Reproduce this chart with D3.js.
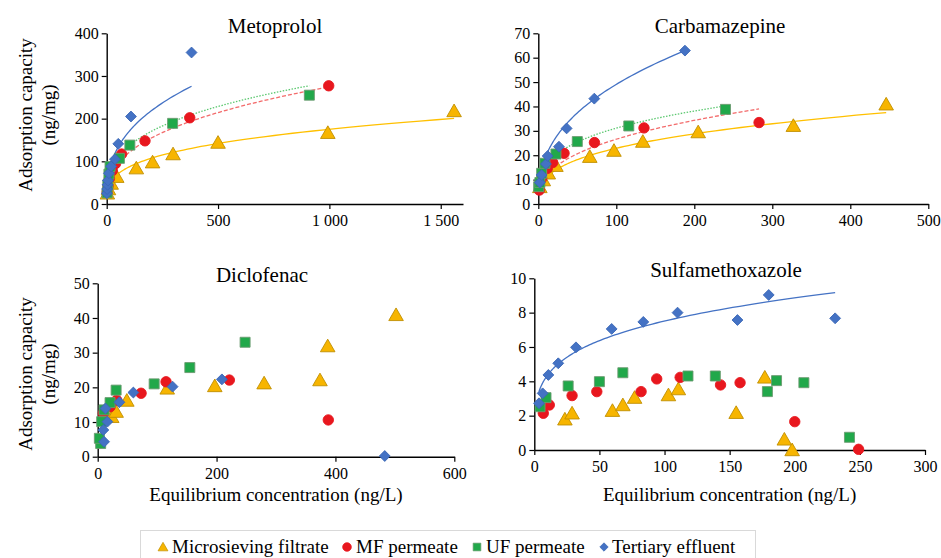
<!DOCTYPE html>
<html>
<head>
<meta charset="utf-8">
<script src="https://cdn.jsdelivr.net/npm/d3@7"></script>
<style>
  body { margin: 0; background: #fff; }
  svg text { font-family: "Liberation Serif", "Times New Roman", Tinos, "DejaVu Serif", "Noto Serif", serif !important; fill: #000; }
</style>
</head>
<body>
<svg id="chart" width="941" height="558"></svg>
<script>
// ---- data: [concentration ng/L, capacity ng/mg] ----
const seriesNames = ["Microsieving filtrate", "MF permeate", "UF permeate", "Tertiary effluent"];

const metoMicro = [[3, 25], [8, 35], [20, 48], [45, 64], [133, 84], [206, 98], [298, 117], [500, 144], [993, 167], [1560, 218]];
const metoMF    = [[2, 28], [6, 42], [12, 60], [25, 78], [40, 95], [67, 117], [172, 148], [373, 202], [997, 277]];
const metoUF    = [[2, 26], [5, 45], [10, 70], [15, 88], [57, 107], [104, 138], [296, 189], [910, 255]];
const metoTert  = [[1, 25], [2, 35], [4, 45], [6, 55], [10, 72], [20, 88], [37, 105], [52, 141], [109, 205], [381, 355]];

const carbMicro = [[2, 7], [6.4, 9.8], [12.8, 12.6], [22.6, 15.7], [66, 19.4], [97, 21.9], [134, 25.6], [205, 29.5], [327, 32.1], [446, 40.9]];
const carbMF    = [[1.3, 5.7], [4.3, 10.5], [11.5, 14.6], [18.4, 17], [33, 20.8], [72, 25.2], [135.5, 31.2], [283, 33.4]];
const carbUF    = [[0.5, 7.1], [2, 8.8], [4.3, 12.6], [8.5, 16.7], [22.6, 20.5], [50, 25.6], [116, 32], [240, 38.8]];
const carbTert  = [[2, 8.8], [4.3, 11.9], [9.8, 16.4], [12, 19.7], [26.5, 23.5], [36.3, 31], [71.8, 43.2], [188, 62.9]];

const diclMicro = [[23.6, 11.5], [31, 13], [49, 16.2], [117, 19.7], [197, 20.4], [280, 21.2], [374, 22.1], [387, 31.9], [502, 40.9]];
const diclMF    = [[9.5, 12.5], [20.8, 14.4], [32, 16.3], [73, 18.3], [115, 21.6], [221.5, 22.1], [388, 10.6]];
const diclUF    = [[5, 3.8], [2.8, 5.3], [6.7, 10.1], [10.7, 13.5], [20.8, 15.6], [31, 19.2], [95, 21], [155, 25.7], [248, 33]];
const diclTert  = [[10.7, 4.3], [9.5, 7.7], [16.3, 10.1], [13, 13.9], [36.5, 15.7], [60, 18.5], [126, 20.2], [209, 22.3], [483, 0.2]];

const sulfMicro = [[23.5, 1.79], [29, 2.14], [60, 2.29], [68, 2.62], [77, 3.05], [103, 3.2], [110.6, 3.55], [155, 2.17], [177, 4.23], [192, 0.62], [198, 0]];
const sulfMF    = [[6.9, 2.14], [11.5, 2.62], [29, 3.17], [48, 3.4], [82, 3.4], [94, 4.14], [112, 4.23], [143, 3.79], [158, 3.92], [200, 1.65], [249, 0.04]];
const sulfUF    = [[4.4, 2.52], [9, 3.05], [26, 3.73], [50, 3.98], [68, 4.5], [118, 4.31], [139, 4.31], [179, 3.4], [186, 4.04], [207, 3.92], [242, 0.74]];
const sulfTert  = [[3.6, 2.72], [6.4, 3.3], [10.8, 4.37], [18.4, 5.05], [32, 5.98], [59.4, 7.05], [83.7, 7.46], [110, 8.0], [156, 7.57], [180, 9.03], [231, 7.67]];

// power trendlines q = a * C^b as printed in the figure, [a, b] per series (null = no trendline)
const metoTrend = [[21.3, 0.305], [23.3, 0.357], [30.9, 0.322], [31.9, 0.363]];
const carbTrend = [[4.98, 0.331], [4.88, 0.368], [8.07, 0.293], [8.03, 0.393]];
const diclTrend = [null, null, null, null];
const sulfTrend = [null, null, null, [2.51, 0.238]];

const metoXTicks = [0, 500, 1000, 1500];
const metoYTicks = [0, 100, 200, 300, 400];
const carbXTicks = [0, 100, 200, 300, 400, 500];
const carbYTicks = [0, 10, 20, 30, 40, 50, 60, 70];
const diclXTicks = [0, 200, 400, 600];
const diclYTicks = [0, 10, 20, 30, 40, 50];
const sulfXTicks = [0, 50, 100, 150, 200, 250, 300];
const sulfYTicks = [0, 2, 4, 6, 8, 10];

// ---- styling ----
const serif = "'Liberation Serif', 'Times New Roman', Tinos, 'DejaVu Serif', 'Noto Serif', serif";
const fills   = ["#F7B500", "#E8171E", "#21A84A", "#4472C4"];
const strokes = ["#BF8F00", "#E8171E", "#6B9B70", "#3A66B5"];
const trendColors = ["#FFC000", "#F36B6B", "#5CC870", "#4472C4"];
const trendDash   = [null, "4,2", "1.5,1.5", null];
const symbols = [d3.symbolTriangle, d3.symbolCircle, d3.symbolSquare, d3.symbolDiamond2];
const symSize = [92, 85, 100, 75];

const spaceFmt = v => d3.format(",")(v).replace(/,/g, "\u00a0");

const panels = [
  { title: "Metoprolol", series: [metoMicro, metoMF, metoUF, metoTert], trend: metoTrend, xTicks: metoXTicks, yTicks: metoYTicks,
    xMax: 1600, yMax: 400, l: 106.7, r: 463, t: 33.3, b: 204, tx: 275, ty: 33, yTitle: 115, xTitle: false },
  { title: "Carbamazepine", series: [carbMicro, carbMF, carbUF, carbTert], trend: carbTrend, xTicks: carbXTicks, yTicks: carbYTicks,
    xMax: 500, yMax: 70, l: 538.3, r: 928.3, t: 33.3, b: 204, tx: 720, ty: 33, yTitle: null, xTitle: false },
  { title: "Diclofenac", series: [diclMicro, diclMF, diclUF, diclTert], trend: diclTrend, xTicks: diclXTicks, yTicks: diclYTicks,
    xMax: 600, yMax: 50, l: 97.7, r: 454.3, t: 283.3, b: 456.7, tx: 262, ty: 282, yTitle: 374, xTitle: true },
  { title: "Sulfamethoxazole", series: [sulfMicro, sulfMF, sulfUF, sulfTert], trend: sulfTrend, xTicks: sulfXTicks, yTicks: sulfYTicks,
    xMax: 300, yMax: 10, l: 534.3, r: 925, t: 278.3, b: 450, tx: 726, ty: 277, yTitle: null, xTitle: true }
];

const svg = d3.select("#chart").attr("font-family", serif);

panels.forEach(p => {
  const x = d3.scaleLinear().domain([0, p.xMax]).range([p.l, p.r]);
  const y = d3.scaleLinear().domain([0, p.yMax]).range([p.b, p.t]);
  const g = svg.append("g");

  const xAxis = g.append("g").attr("transform", `translate(0,${p.b})`)
    .call(d3.axisBottom(x).tickValues(p.xTicks).tickSize(5).tickSizeOuter(0).tickFormat(spaceFmt));
  const yAxis = g.append("g").attr("transform", `translate(${p.l},0)`)
    .call(d3.axisLeft(y).tickValues(p.yTicks).tickSize(5).tickSizeOuter(0));
  [xAxis, yAxis].forEach(a => {
    a.attr("font-family", serif).attr("font-size", 16);
    a.select(".domain").attr("stroke", "#000").attr("stroke-width", 1.4);
    a.selectAll(".tick line").attr("stroke", "#000").attr("stroke-width", 1.2);
    a.selectAll("text").attr("fill", "#000");
  });
  xAxis.selectAll("text").attr("dy", "0.9em");
  yAxis.selectAll("text").attr("x", -8);

  g.append("text").attr("x", p.tx).attr("y", p.ty).attr("text-anchor", "middle")
    .attr("font-size", 21).text(p.title);

  // trendlines, drawn over the observed concentration range of each series
  p.trend.forEach((t, i) => {
    if (!t) return;
    const ext = d3.extent(p.series[i], d => d[0]);
    const xs = d3.range(0, 121).map(k => ext[0] * Math.pow(ext[1] / ext[0], k / 120));
    const line = d3.line().x(v => x(v)).y(v => y(t[0] * Math.pow(v, t[1])));
    g.append("path").datum(xs).attr("d", line).attr("fill", "none")
      .attr("stroke", trendColors[i]).attr("stroke-width", 1.3)
      .attr("stroke-dasharray", trendDash[i]);
  });

  // markers
  p.series.forEach((s, i) => {
    g.append("g").selectAll("path").data(s).join("path")
      .attr("transform", d => `translate(${x(d[0])},${y(d[1]) + (i === 0 ? 1.5 : 0)})`)
      .attr("d", d3.symbol().type(symbols[i]).size(symSize[i]))
      .attr("fill", fills[i]).attr("stroke", strokes[i]).attr("stroke-width", 0.9);
  });

  if (p.yTitle) {
    g.append("text").attr("transform", `translate(25,${p.yTitle}) rotate(-90)`).attr("text-anchor", "middle")
      .attr("dy", "0.35em").attr("font-size", 19).text("Adsorption capacity");
    g.append("text").attr("transform", `translate(48,${p.yTitle}) rotate(-90)`).attr("text-anchor", "middle")
      .attr("dy", "0.35em").attr("font-size", 19).text("(ng/mg)");
  }
  if (p.xTitle) {
    g.append("text").attr("x", (p.l + p.r) / 2).attr("y", 501).attr("text-anchor", "middle")
      .attr("font-size", 19).text("Equilibrium concentration (ng/L)");
  }
});

// legend
const legend = svg.append("g");
legend.append("rect").attr("x", 140.5).attr("y", 530.5).attr("width", 615).attr("height", 40)
  .attr("fill", "#fff").attr("stroke", "#D9D9D9").attr("stroke-width", 1);
const legX = [163, 347, 477, 604];
const legTextX = [172, 356, 486, 612];
const legSize = [42, 60, 60, 45];
seriesNames.forEach((n, i) => {
  legend.append("path").attr("transform", `translate(${legX[i]},${547 + (i === 0 ? 1 : 0)})`)
    .attr("d", d3.symbol().type(symbols[i]).size(legSize[i]))
    .attr("fill", fills[i]).attr("stroke", strokes[i]).attr("stroke-width", 0.7);
  legend.append("text").attr("x", legTextX[i]).attr("y", 553).attr("font-size", 19).text(n);
});
</script>
</body>
</html>
